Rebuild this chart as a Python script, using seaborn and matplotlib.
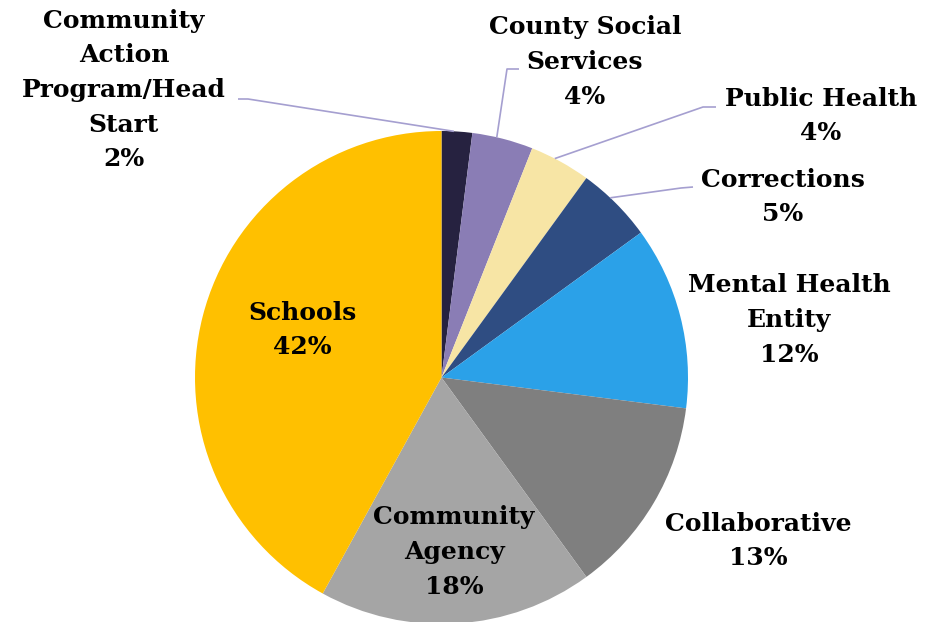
import matplotlib
matplotlib.use("Agg")
import matplotlib.pyplot as plt
import numpy as np
import seaborn as sns

# Share of programs by lead agency type
categories = [
    "Community\nAction\nProgram/Head\nStart",
    "County Social\nServices",
    "Public Health",
    "Corrections",
    "Mental Health\nEntity",
    "Collaborative",
    "Community\nAgency",
    "Schools",
]
shares = [2, 4, 4, 5, 12, 13, 18, 42]
colors = ["#262240", "#8A7DB5", "#F7E5A5", "#2F4D82",
          "#2BA1E8", "#7F7F7F", "#A5A5A5", "#FFC000"]

sns.set_theme(style="white")
plt.rcParams["font.family"] = ["DejaVu Serif"]

W, H = 925, 622
fig = plt.figure(figsize=(W / 100, H / 100), dpi=100)
ax = fig.add_axes([0, 0, 1, 1])


def px(x, y):
    """Pixel position measured from the top-left corner -> data coords."""
    return x, H - y


cx, cy = px(441.5, 377.5)
R = 246.5

wedges, _ = ax.pie(shares, colors=colors, startangle=90, counterclock=False,
                   center=(cx, cy), radius=R, frame=True,
                   wedgeprops=dict(linewidth=0))
ax.set_xlim(0, W)
ax.set_ylim(0, H)
ax.set_aspect("equal")
ax.axis("off")

# label block centres (pixels from top-left)
label_pos = [(124, 90), (585, 62), (821, 116), (783, 197),
             (789, 320), (758, 541), (454, 552), (302, 330)]

for name, val, (lx, ly) in zip(categories, shares, label_pos):
    x, y = px(lx, ly)
    ax.text(x, y, f"{name}\n{val}%", ha="center", va="center",
            fontsize=18, fontweight="bold", color="black",
            linespacing=1.56, multialignment="center")

# leader lines for the narrow wedges: label side points, then wedge edge
leaders = {
    0: [(238, 99), (248, 99)],
    1: [(519, 69), (507, 69)],
    2: [(716, 107), (703, 107)],
    3: [(693, 187), (681, 188)],
}
for i, pts in leaders.items():
    w = wedges[i]
    ang = np.deg2rad(w.theta2 + 0.4 * (w.theta1 - w.theta2))
    ex, ey = cx + R * np.cos(ang), cy + R * np.sin(ang)
    xs = [px(*p)[0] for p in pts] + [ex]
    ys = [px(*p)[1] for p in pts] + [ey]
    ax.plot(xs, ys, color="#A59FD0", linewidth=1.2, solid_capstyle="butt")

fig.savefig("out.png", dpi=100)
